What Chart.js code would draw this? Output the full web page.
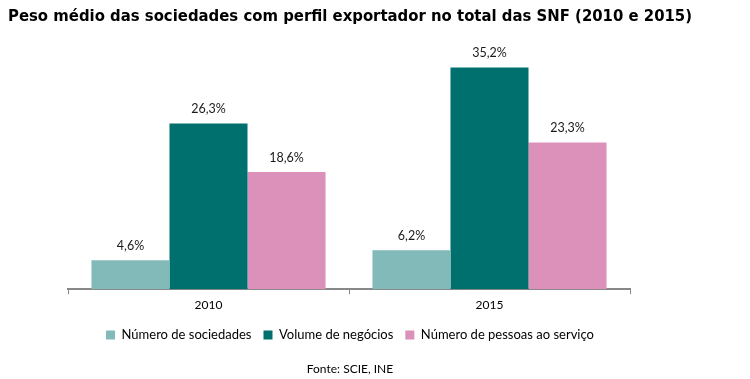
<!DOCTYPE html>
<html><head><meta charset="utf-8">
<script src="https://cdn.jsdelivr.net/npm/chart.js@4"></script>
<style>html,body{margin:0;padding:0;background:#fff}#wrap{width:750px;height:379px;position:relative}</style>
</head><body><div id="wrap"><canvas id="c"></canvas></div>
<script>
const categories = ['2010', '2015'];
const seriesNames = ['Número de sociedades', 'Volume de negócios', 'Número de pessoas ao serviço'];
const numeroSociedades = [4.6, 6.2];
const volumeNegocios = [26.3, 35.2];
const numeroPessoas = [18.6, 23.3];
const seriesColors = ['#82B9B9', '#00706E', '#DB91B9'];
const titleText = 'Peso médio das sociedades com perfil exportador no total das SNF (2010 e 2015)';
const sourceText = 'Fonte: SCIE, INE';

const labelFont = 'Lato, "Open Sans", sans-serif';

const valueLabels = {
  id: 'valueLabels',
  afterDatasetsDraw(chart) {
    const ctx = chart.ctx;
    ctx.save();
    ctx.font = '12.5px ' + labelFont;
    ctx.fillStyle = '#1a1a1a';
    ctx.textAlign = 'center';
    ctx.textBaseline = 'bottom';
    chart.data.datasets.forEach((ds, i) => {
      const meta = chart.getDatasetMeta(i);
      meta.data.forEach((bar, j) => {
        const v = ds.data[j];
        ctx.fillText(v.toFixed(1).replace('.', ',') + '%', bar.x, bar.y - 8);
      });
    });
    ctx.restore();
  }
};

new Chart(document.getElementById('c'), {
  type: 'bar',
  data: {
    labels: categories,
    datasets: [
      { label: seriesNames[0], data: numeroSociedades, backgroundColor: seriesColors[0] },
      { label: seriesNames[1], data: volumeNegocios, backgroundColor: seriesColors[1] },
      { label: seriesNames[2], data: numeroPessoas, backgroundColor: seriesColors[2] }
    ]
  },
  options: {
    responsive: true,
    maintainAspectRatio: false,
    animation: false,
    layout: { padding: { left: 8, right: 58, top: 0, bottom: 1 } },
    datasets: { bar: { barPercentage: 1.0, categoryPercentage: 0.833 } },
    scales: {
      x: {
        grid: { display: true, drawOnChartArea: false, drawTicks: true, tickLength: 5, color: '#888888', lineWidth: 1, offset: true },
        border: { display: true, color: '#888888', width: 2 },
        ticks: { color: '#000', font: { family: labelFont, size: 12 }, padding: 4 }
      },
      y: {
        min: 0, max: 40,
        ticks: { display: false },
        grid: { display: false },
        border: { display: false },
        afterFit(s) { s.width = 60; }
      },
      y2: {
        type: 'linear', position: 'right', min: 0, max: 40,
        ticks: { display: false },
        grid: { display: false },
        border: { display: false },
        afterFit(s) { s.width = 62; }
      }
    },
    plugins: {
      title: {
        display: true, text: titleText, align: 'start', color: '#000',
        font: { family: '"DejaVu Sans", Verdana, sans-serif', size: 15.2, weight: 'bold' },
        padding: { top: 8, bottom: 11 }
      },
      subtitle: {
        display: true, text: sourceText, position: 'bottom', color: '#000',
        font: { family: labelFont, size: 12 },
        padding: { top: 10, bottom: 2 }
      },
      legend: {
        position: 'bottom',
        labels: { boxWidth: 9, boxHeight: 9, color: '#000', font: { family: labelFont, size: 13 }, padding: 12 }
      },
      tooltip: { enabled: false }
    }
  },
  plugins: [valueLabels]
});
</script>
</body></html>
